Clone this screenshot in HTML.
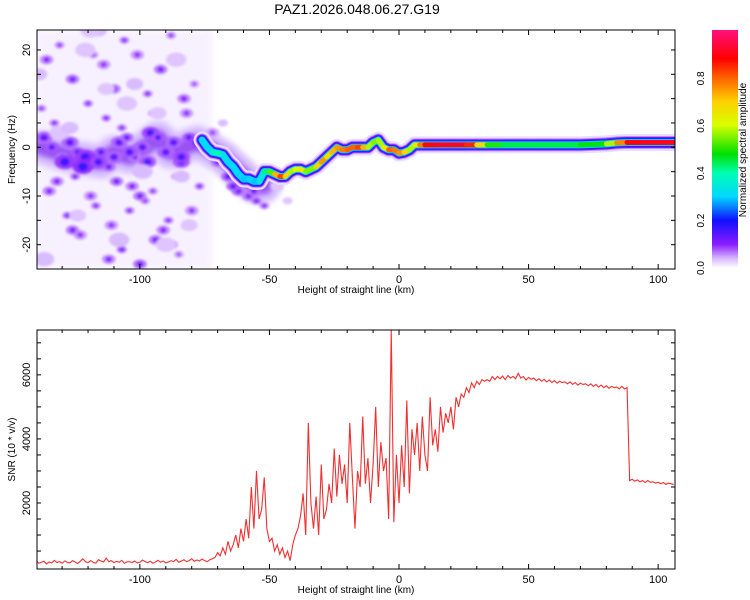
<!DOCTYPE html>
<html><head><meta charset="utf-8"><style>
body{margin:0;background:#fff;}
svg{display:block;font-family:"Liberation Sans",sans-serif;}
</style></head><body>
<svg id="c" width="750" height="600" viewBox="0 0 750 600">
<defs>
<filter id="bl" x="-50%" y="-50%" width="200%" height="200%"><feGaussianBlur stdDeviation="1.4"/></filter>
<filter id="bl2" x="-50%" y="-50%" width="200%" height="200%"><feGaussianBlur stdDeviation="3"/></filter>
<linearGradient id="cm" x1="0" y1="1" x2="0" y2="0">
<stop offset="0" stop-color="#ffffff"/><stop offset="0.04" stop-color="#d8b8ff"/><stop offset="0.1" stop-color="#8a1cff"/>
<stop offset="0.2" stop-color="#1010ff"/><stop offset="0.3" stop-color="#00d8ff"/><stop offset="0.4" stop-color="#00ffb0"/>
<stop offset="0.48" stop-color="#00e000"/><stop offset="0.6" stop-color="#d8ff00"/><stop offset="0.7" stop-color="#ffd000"/>
<stop offset="0.8" stop-color="#ff6000"/><stop offset="0.88" stop-color="#ff0000"/><stop offset="1" stop-color="#ff1080"/>
</linearGradient>
<clipPath id="clipT"><rect x="37" y="30" width="638" height="239"/></clipPath>
<clipPath id="clipB"><rect x="37" y="330" width="638" height="239"/></clipPath>
</defs>
<text x="357" y="14" font-size="14" text-anchor="middle">PAZ1.2026.048.06.27.G19</text>
<g id="topPanel"></g>
<g id="botPanel"></g>
<g id="cbar"></g>
</svg>
<script>
// ---- data ----
const xDomain = [-139.7, 106.5];
const freqDomain = [-25, 24.1];
const snrDomain = [-60, 7400];
const xTicks = [-100, -50, 0, 50, 100];
const freqTicks = [-20, -10, 0, 10, 20];
const snrTicks = [2000, 4000, 6000];
const cbarTicks = [0.0, 0.2, 0.4, 0.6, 0.8];
// ridge (height km, frequency Hz, amplitude)
const ridgeX = [-76,-74,-72,-70,-68,-66,-64,-62,-60,-58,-56,-54,-52,-50,-48,-46,-44,-42,-40,-38,-36,-34,-32,-30,-28,-26,-24,-22,-20,-18,-16,-14,-12,-10,-8,-6,-4,-2,0,2,4,6,8,10,14,20,26,30,34,40,50,60,70,80,84,88,94,100,106];
const ridgeF = [1.5,0,-1,-1.2,-1.5,-3,-4,-5.5,-6.5,-6.5,-7,-7,-5,-5,-5.5,-6,-6,-5,-4.5,-4.5,-5,-4.5,-4,-3,-2,-1,0,-0.5,-0.5,0,0,0,0,1,1.5,0,-0.5,-0.5,-1.2,-1,-0.5,0.5,0.5,0.5,0.5,0.5,0.5,0.5,0.5,0.5,0.5,0.5,0.5,0.7,0.9,1,1,1,1];
const ridgeA = [0.3,0.32,0.3,0.45,0.35,0.3,0.3,0.32,0.28,0.3,0.3,0.28,0.4,0.45,0.6,0.85,0.8,0.6,0.55,0.7,0.6,0.5,0.6,0.8,0.7,0.65,0.8,0.7,0.85,0.75,0.85,0.8,0.65,0.5,0.6,0.55,0.75,0.85,0.7,0.8,0.55,0.6,0.7,0.85,0.9,0.92,0.9,0.8,0.55,0.45,0.45,0.45,0.45,0.5,0.65,0.88,0.9,0.92,0.9];
// broad halo around steady ridge
const haloX = [28, 84];
const haloF = [0.5, 0.5];
// dark noise band in the noisy region
const bandX = [-138,-132,-126,-120,-115,-110,-104,-98,-93,-88,-83,-78,-74,-68,-62,-56,-52];
const bandF = [0,-1,-2,-2.5,-3,-1,-2,0,2,-1,0,1,0,-2,-5,-8,-8];
// noise blobs (height km, frequency Hz, strength, size)
const blobX = [-137,-134,-130,-127,-124,-121,-118,-115,-112,-108,-105,-102,-99,-96,-93,-90,-87,-84,-81,-78,-136,-131,-126,-120,-114,-110,-106,-101,-97,-92,-88,-83,-79,-135,-128,-123,-117,-111,-107,-103,-98,-94,-89,-85,-80,-138,-132,-125,-119,-113,-109,-104,-100,-95,-91,-86,-82,-77,-129,-122,-116,-110,-104,-97,-90,-84,-133,-126,-118,-112,-107,-100,-95,-88,-70,-66,-62,-58,-55,-52,-64,-60,-56,-72,-68,-47,-43,-139,-121,-102,-86,-116,-131,-93,-108,-124,-99,-81,-137,-113,-90,-127,-105,-84,-119,-96];
const blobF = [2,0,-2,1,-1,-2,-3,-1,-4,1,2,-2,0,3,2,-1,1,-3,2,1,18,21,14,9,17,12,22,19,11,16,23,10,13,-9,-14,-18,-12,-16,-21,-8,-11,-19,-15,-22,-13,8,-7,-6,-10,6,-7,-13,-24,-9,-17,-6,7,-8,-3,-4,-3,-2,-1,-3,-1,-2,5,-17,19,-23,4,-10,7,-20,-3,-6,-9,-10,-11,-12,-8,-7,-9,3,5,-8,-11,15,20,13,18,24,3,7,-19,-14,-5,-16,-23,12,-20,4,9,-6,24];
const blobS = [0.13,0.14,0.12,0.13,0.14,0.16,0.18,0.14,0.12,0.13,0.12,0.11,0.13,0.15,0.14,0.12,0.13,0.14,0.14,0.15,0.1,0.09,0.11,0.1,0.09,0.11,0.1,0.09,0.1,0.11,0.09,0.1,0.08,0.1,0.11,0.09,0.1,0.09,0.12,0.1,0.09,0.11,0.1,0.08,0.09,0.09,0.1,0.11,0.09,0.1,0.11,0.1,0.12,0.09,0.1,0.1,0.09,0.1,0.16,0.17,0.15,0.13,0.14,0.14,0.13,0.15,0.1,0.11,0.09,0.1,0.1,0.11,0.09,0.1,0.12,0.13,0.12,0.11,0.12,0.1,0.13,0.14,0.12,0.08,0.07,0.06,0.06,0.07,0.06,0.07,0.06,0.07,0.06,0.06,0.07,0.06,0.07,0.06,0.07,0.06,0.06,0.07,0.06,0.07,0.06,0.07];
const blobR = [5,4,4,5,4,6,5,4,4,5,4,4,5,5,4,4,5,5,4,5,4,3,4,3,4,4,3,4,3,4,3,4,3,4,3,4,3,4,3,4,3,4,3,3,4,3,4,3,4,3,4,3,4,3,4,3,4,3,6,6,5,5,5,5,5,5,3,4,3,4,3,4,3,4,4,4,4,4,3,3,4,4,4,4,3,4,3,5,6,5,6,5,6,5,6,5,6,5,6,5,6,5,6,5,6,5];
// SNR series: height start -140 step 1 km
const snrStart = -140;
const snrValues = [200,120,150,180,100,160,130,210,140,170,120,190,150,130,200,160,110,180,260,170,140,200,150,120,230,190,160,280,170,200,140,180,150,210,120,160,170,140,190,130,150,220,170,140,180,120,160,210,150,190,130,160,200,170,240,150,190,230,170,200,260,180,220,190,250,200,170,230,260,
300,450,350,600,400,800,500,700,1000,600,1200,800,1500,900,2500,1200,3000,1500,1800,2800,1200,800,900,500,700,400,600,300,500,200,700,1000,
1200,1600,2300,1000,4500,2000,1200,2200,1000,3200,1500,1800,2600,2000,3700,2200,3500,2600,3200,2000,4500,2800,1200,3000,2500,4700,2600,3400,2000,3200,5000,2500,3900,3000,3400,1500,7400,1400,3500,
2000,3800,2500,5200,2300,4300,3500,4500,3000,4700,3500,3000,5300,3800,4300,3600,5000,4200,4800,4500,5000,4300,5300,5000,5400,
5300,5600,5450,5750,5600,5800,5700,5850,
5800,5850,5800,5950,5850,5950,5880,5960,
5850,5980,5900,5950,5880,6050,5900,5950,
5840,5920,5860,5900,5820,5880,5800,5860,
5780,5840,5760,5820,5740,5800,5760,5780,
5720,5780,5700,5760,5680,5740,5700,5720,
5660,5720,5640,5700,5620,5680,5600,5660,
5580,5640,5600,5620,5560,5640,5560,5600,
2700,2740,2680,2720,2660,2700,2640,2700,2650,2660,2620,2650,2600,2640,2580,2620,2600,2580];

// ---- scales ----
const L=37,R=675,T1=30,B1=269,T2=330,B2=569;
function xs(v){return L+(v-xDomain[0])/(xDomain[1]-xDomain[0])*(R-L);}
function fy(v){return B1-(v-freqDomain[0])/(freqDomain[1]-freqDomain[0])*(B1-T1);}
function sy(v){return B2-(v-snrDomain[0])/(snrDomain[1]-snrDomain[0])*(B2-T2);}
const NS="http://www.w3.org/2000/svg";
function mk(tag,attrs,parent){const e=document.createElementNS(NS,tag);for(const k in attrs)e.setAttribute(k,attrs[k]);parent.appendChild(e);return e;}
const stops=[[0,[255,255,255]],[0.04,[216,184,255]],[0.1,[138,28,255]],[0.2,[16,16,255]],[0.3,[0,216,255]],[0.4,[0,255,176]],[0.48,[0,224,0]],[0.6,[216,255,0]],[0.7,[255,208,0]],[0.8,[255,96,0]],[0.88,[255,0,0]],[1,[255,16,128]]];
function cmap(a){for(let i=1;i<stops.length;i++){if(a<=stops[i][0]){const t=(a-stops[i-1][0])/(stops[i][0]-stops[i-1][0]);const c=stops[i-1][1].map((v,j)=>Math.round(v+(stops[i][1][j]-v)*t));return `rgb(${c})`;}}return 'rgb(255,16,128)';}

// ---- top panel ----
const topG=document.getElementById('topPanel');
const plotT=mk('g',{'clip-path':'url(#clipT)'},topG);


const haze=mk('rect',{x:xs(-140),y:T1,width:xs(-72)-xs(-140),height:B1-T1,fill:'#eee2ff',opacity:0.45,filter:'url(#bl2)'},plotT);


const bandPts=bandX.map((x,i)=>xs(x)+','+fy(bandF[i])).join(' ');
const band1=mk('polyline',{points:bandPts,fill:'none',stroke:'#d8c0ff','stroke-width':34,'stroke-linejoin':'round','stroke-linecap':'round',filter:'url(#bl2)'},plotT);


const band2=mk('polyline',{points:bandPts,fill:'none',stroke:'#8a40f0','stroke-width':16,'stroke-linejoin':'round','stroke-linecap':'round',filter:'url(#bl2)',opacity:0.85},plotT);


const blobG=mk('g',{filter:'url(#bl)'},plotT);
for(let i=0;i<blobX.length;i++){
  const rr=blobR[i];
  const c=mk('ellipse',{cx:xs(blobX[i]),cy:fy(blobF[i]),rx:rr*1.7,ry:rr*1.2,fill:cmap(blobS[i]*0.55)},blobG);
  
  
  if(blobS[i]>0.075){
  const d=mk('ellipse',{cx:xs(blobX[i]),cy:fy(blobF[i]),rx:rr*0.8,ry:rr*0.7,fill:cmap(blobS[i])},blobG);
  
  }
}
const haloPts=haloX.map((x,i)=>xs(x)+','+fy(haloF[i])).join(' ');
const halo=mk('polyline',{points:haloPts,fill:'none',stroke:'#eadcff','stroke-width':26,'stroke-linecap':'round',filter:'url(#bl2)'},plotT);


const pts=ridgeX.map((x,i)=>xs(x)+','+fy(ridgeF[i])).join(' ');
const layers=[[17,'#eadcff'],[13,'#b890ff'],[11,'#7a10ff'],[9,'#2020ff'],[7,'#00d0ff']];
layers.forEach(l=>{const p=mk('polyline',{points:pts,fill:'none',stroke:l[1],'stroke-width':l[0],'stroke-linejoin':'round','stroke-linecap':'round'},plotT);
  
  });
for(let i=0;i<ridgeX.length-1;i++){
  const s=mk('line',{x1:xs(ridgeX[i]),y1:fy(ridgeF[i]),x2:xs(ridgeX[i+1]),y2:fy(ridgeF[i+1]),stroke:cmap((ridgeA[i]+ridgeA[i+1])/2),'stroke-width':5,'stroke-linecap':'round'},plotT);
  
  
}
function frame(g,T,B,yTicksMaj,yfun,yMinor,yLabel,ylx){
  const f=mk('rect',{x:L,y:T,width:R-L,height:B-T,fill:'none',stroke:'#000','stroke-width':1},g);
  
  
  for(let v=-130;v<=100;v+=10){const x=xs(v);const big=v%50===0;const len=big?5:3;
    mk('line',{x1:x,y1:B,x2:x,y2:B-len,stroke:'#000'},g);mk('line',{x1:x,y1:T,x2:x,y2:T+len,stroke:'#000'},g);}
  xTicks.forEach(v=>{const t=mk('text',{x:xs(v),y:B+14,'font-size':11,'text-anchor':'middle'},g);t.textContent=v;
    
    });
  const xl=mk('text',{x:356,y:B+24,'font-size':10,'text-anchor':'middle'},g);xl.textContent='Height of straight line (km)';
  
  
  yMinor.forEach(v=>{const y=yfun(v);mk('line',{x1:L,y1:y,x2:L+4,y2:y,stroke:'#000'},g);mk('line',{x1:R,y1:y,x2:R-4,y2:y,stroke:'#000'},g);});
  yTicksMaj.forEach(v=>{const y=yfun(v);const t=mk('text',{x:30,y:y,'font-size':11,'text-anchor':'middle',transform:`rotate(-90 30 ${y})`},g);t.textContent=v;
    
    });
  const yl=mk('text',{x:ylx,y:(T+B)/2,'font-size':10,'text-anchor':'middle',transform:`rotate(-90 ${ylx} ${(T+B)/2})`},g);yl.textContent=yLabel;
  
  
}
const fMin=[];for(let v=-25;v<=24;v+=5)fMin.push(v);
frame(topG,T1,B1,freqTicks,fy,fMin,'Frequency (Hz)',15);

// ---- bottom panel ----
const botG=document.getElementById('botPanel');
const plotB=mk('g',{'clip-path':'url(#clipB)'},botG);
const snrPts=snrValues.map((v,i)=>xs(snrStart+i)+','+sy(v)).join(' ');
const snrLine=mk('polyline',{points:snrPts,fill:'none',stroke:'#f03030','stroke-width':1.1},plotB);


const sMin=[];for(let v=500;v<=7000;v+=500)sMin.push(v);
frame(botG,T2,B2,snrTicks,sy,sMin,'SNR (10 * v/v)',15);

// ---- colorbar ----
const cbG=document.getElementById('cbar');
const cr=mk('rect',{x:712,y:30,width:26,height:238,fill:'url(#cm)'},cbG);


cbarTicks.forEach(v=>{const y=268-v*237;const t=mk('text',{x:704,y:y,'font-size':10,'text-anchor':'middle',transform:`rotate(-90 704 ${y})`},cbG);t.textContent=v.toFixed(1);
  
  });
const ct=mk('text',{x:746,y:150,'font-size':10,'text-anchor':'middle',transform:'rotate(-90 746 150)'},cbG);ct.textContent='Normalized spectral amplitude';


</script>
</body></html>
